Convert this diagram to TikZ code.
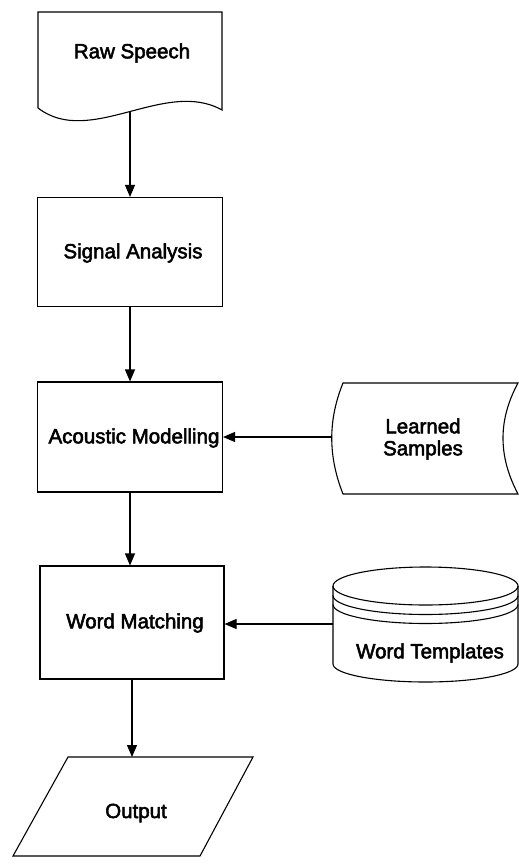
\documentclass[tikz,border=0pt]{standalone}
\usepackage{fontspec}
\setmainfont{Liberation Sans}
\newfontfamily\lblfont{Liberation Sans}[FakeBold=2.5]
\usetikzlibrary{arrows.meta}
\begin{document}
\begin{tikzpicture}[x=1pt,y=-1pt,
  line width=1.1pt,
  lbl/.style={font=\lblfont\fontsize{20.5}{22}\selectfont, inner sep=0pt, align=center},
  procbox/.style={draw, rectangle, minimum width=185pt, inner sep=0pt},
  flow/.style={-{Triangle[length=12pt,width=10pt]}}]
\useasboundingbox (0,0) rectangle (519,867);

% Raw Speech: document symbol with wavy bottom edge
\draw (38,12) -- (222,12) -- (222,110)
  .. controls (165,78) and (90,148) .. (38,108) -- cycle;
\node[lbl] (raw) at (132,53) {Raw Speech};
\coordinate (rawb) at (130,112);

% Processing steps
\node[procbox, minimum height=109pt] (sig) at (130,252) {};
\node[lbl] (sigt) at (133,253) {Signal Analysis};

\node[procbox, minimum height=110pt] (ac) at (130,437) {};
\node[lbl] (act) at (134,438) {Acoustic Modelling};

\node[procbox, minimum width=184pt, minimum height=113pt] (wm) at (132,622.5) {};
\node[lbl] (wmt) at (135,623) {Word Matching};

% Learned Samples: stored-data symbol
\draw (343,383) -- (518,383)
  .. controls (498,420) and (498,456) .. (518,494)
  -- (343,494)
  .. controls (328,456) and (328,420) .. cycle;
\node[lbl] (ls) at (423,439) {Learned\\Samples};
\coordinate (lsw) at (332,437);

% Word Templates: stacked disk (cylinder)
\draw (425.5,586) ellipse [x radius=92.5pt, y radius=19pt];
\draw (333,595.5) arc[start angle=180, end angle=360, x radius=92.5pt, y radius=19pt];
\draw (333,604.5) arc[start angle=180, end angle=360, x radius=92.5pt, y radius=19pt];
\draw (333,586) -- (333,664)
  arc[start angle=180, end angle=360, x radius=92.5pt, y radius=18pt]
  -- (518,586);
\node[lbl] (wt) at (430,653) {Word Templates};
\coordinate (wtw) at (333,624);

% Output: parallelogram
\draw (68,757) -- (253,757) -- (200,856) -- (13,856) -- cycle;
\node[lbl] (out) at (136,813) {Output};
\coordinate (outn) at (132,757);

% Connectors
\draw[flow] (rawb) -- (sig.north);
\draw[flow] (sig.south) -- (ac.north);
\draw[flow] (ac.south) -- (ac.south |- wm.north);
\draw[flow] (wm.south) -- (outn);
\draw[flow] (lsw) -- (lsw -| ac.east);
\draw[flow] (wtw) -- (wtw -| wm.east);
\end{tikzpicture}
\end{document}
